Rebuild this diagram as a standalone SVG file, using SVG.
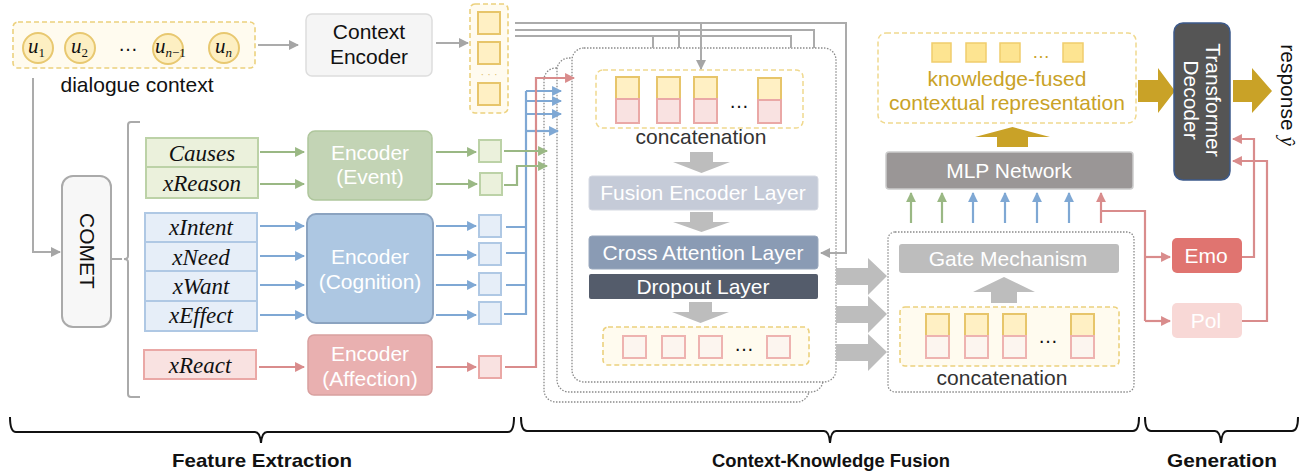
<svg xmlns="http://www.w3.org/2000/svg" width="1309" height="476" viewBox="0 0 1309 476">
<style>
  .sans{font-family:"Liberation Sans",Arial,sans-serif}
  .serif{font-family:"Liberation Serif","Times New Roman",serif;font-style:italic}
  .lbl{font-family:"Liberation Sans",Arial,sans-serif;font-size:21px;text-anchor:middle}
  .wt{fill:#ffffff}
  .dashY{fill:#fffbef;stroke:#ecd17e;stroke-width:1.6;stroke-dasharray:5 3}
  .dashW{fill:#ffffff;stroke:#f0d98e;stroke-width:1.5;stroke-dasharray:5 3}
  .dot{fill:#ffffff;stroke:#8a8a8a;stroke-width:1.3;stroke-dasharray:1.5 1.5}
  .ysq{fill:#fff0c4;stroke:#e7c56a;stroke-width:2}
  .rsq{fill:#f9e2e1;stroke:#eaa8a6;stroke-width:2}
  .rsqL{fill:#fcf5ef;stroke:#eeb3b0;stroke-width:2}
  .gsq{fill:#ebf1dc;stroke:#bcd2a7;stroke-width:2}
  .bsq{fill:#e6eef8;stroke:#afc8e4;stroke-width:2}
  .gl{stroke:#9ab884;stroke-width:2.2;fill:none}
  .bl{stroke:#7fa8d4;stroke-width:2.2;fill:none}
  .rl{stroke:#d98c8c;stroke-width:2.2;fill:none}
  .gy{stroke:#ababab;stroke-width:2;fill:none}
  .gin{font-family:"Liberation Serif","Times New Roman",serif;font-style:italic;font-size:23px;text-anchor:middle;fill:#111}
  .brace{fill:none;stroke:#111;stroke-width:2}
  .sec{font-family:"Liberation Sans",Arial,sans-serif;font-weight:bold;font-size:19px;text-anchor:middle;fill:#111}
</style>
<defs>
  <marker id="mG" viewBox="0 0 10 10" refX="9" refY="5" markerWidth="4.5" markerHeight="4.5" orient="auto"><path d="M0,0 L10,5 L0,10 z" fill="#9ab884"/></marker>
  <marker id="mB" viewBox="0 0 10 10" refX="9" refY="5" markerWidth="4.5" markerHeight="4.5" orient="auto"><path d="M0,0 L10,5 L0,10 z" fill="#7fa8d4"/></marker>
  <marker id="mR" viewBox="0 0 10 10" refX="9" refY="5" markerWidth="4.5" markerHeight="4.5" orient="auto"><path d="M0,0 L10,5 L0,10 z" fill="#d98c8c"/></marker>
  <marker id="mY" viewBox="0 0 10 10" refX="9" refY="5" markerWidth="5" markerHeight="5" orient="auto"><path d="M0,0 L10,5 L0,10 z" fill="#a5a5a5"/></marker>
</defs>

<!-- dialogue context -->
<g id="dialogue">
  <rect class="dashY" x="13" y="22" width="242" height="46" rx="5"/>
  <g fill="#fdefc2" stroke="#e8c870" stroke-width="2">
    <circle cx="38" cy="48" r="15"/><circle cx="80" cy="48" r="15"/>
    <circle cx="168" cy="49" r="15"/><circle cx="224" cy="48" r="15"/>
  </g>
  <g class="serif" font-size="21" fill="#111">
    <text x="28" y="53">u<tspan font-size="13" dy="4" font-style="normal">1</tspan></text>
    <text x="71" y="53">u<tspan font-size="13" dy="4" font-style="normal">2</tspan></text>
    <text x="155" y="53">u<tspan font-size="13" dy="4">n</tspan><tspan font-size="13" font-style="normal">−1</tspan></text>
    <text x="215" y="53">u<tspan font-size="13" dy="4">n</tspan></text>
  </g>
  <text class="sans" x="128" y="51" font-size="20" text-anchor="middle" fill="#111">…</text>
  <text class="lbl" x="137" y="92" fill="#111">dialogue context</text>
</g>

<!-- context encoder -->
<g id="context-encoder">
  <rect x="306" y="14" width="126" height="62" rx="6" fill="#f5f5f5" stroke="#dddddd" stroke-width="1.5"/>
  <text class="lbl" x="369" y="39" fill="#111">Context</text>
  <text class="lbl" x="369" y="64" fill="#111">Encoder</text>
</g>

<!-- encoded context column -->
<g id="context-states">
  <rect class="dashY" x="470" y="4" width="38" height="109" rx="5"/>
  <rect class="ysq" x="478" y="12" width="22" height="22"/>
  <rect class="ysq" x="478" y="42" width="22" height="22"/>
  <text class="sans" x="489" y="78" font-size="11" text-anchor="middle" fill="#e0c070">· · ·</text>
  <rect class="ysq" x="478" y="83" width="22" height="22"/>
</g>

<!-- COMET -->
<g id="comet">
  <rect x="62" y="176" width="49" height="151" rx="11" fill="#f7f7f7" stroke="#aaaaaa" stroke-width="2"/>
  <text class="lbl" transform="translate(87,251) rotate(90)" y="7" font-size="20" fill="#111">COMET</text>
  <path d="M111,259 H122 M140,122 H131 Q128,122 128,125 V256 Q128,259 124,259 Q128,259 128,262 V394 Q128,397 131,397 H140" fill="none" stroke="#aaaaaa" stroke-width="2"/>
</g>

<!-- commonsense relations -->
<g id="relations">
  <rect class="gsq" x="146" y="138" width="112" height="29"/>
  <rect class="gsq" x="146" y="167" width="112" height="31"/>
  <text class="gin" x="202" y="161">Causes</text>
  <text class="gin" x="202" y="191">xReason</text>
  <rect class="bsq" x="145" y="213" width="112" height="29"/>
  <rect class="bsq" x="145" y="242" width="112" height="29"/>
  <rect class="bsq" x="145" y="271" width="112" height="30"/>
  <rect class="bsq" x="145" y="301" width="112" height="30"/>
  <text class="gin" x="201" y="235">xIntent</text>
  <text class="gin" x="201" y="265">xNeed</text>
  <text class="gin" x="201" y="294">xWant</text>
  <text class="gin" x="201" y="323">xEffect</text>
  <rect class="rsq" x="144" y="350" width="112" height="29"/>
  <text class="gin" x="200" y="373">xReact</text>
</g>

<!-- relation encoders -->
<g id="enc-event">
  <rect x="308" y="131" width="124" height="69" rx="7" fill="#c3d4b5" stroke="#afc69c" stroke-width="1.5"/>
  <text class="lbl wt" x="370" y="160">Encoder</text>
  <text class="lbl wt" x="370" y="184">(Event)</text>
</g>
<g id="enc-cognition">
  <rect x="307" y="214" width="126" height="109" rx="9" fill="#adc7e2" stroke="#8ba3c0" stroke-width="2"/>
  <text class="lbl wt" x="370" y="264">Encoder</text>
  <text class="lbl wt" x="370" y="289">(Cognition)</text>
</g>
<g id="enc-affection">
  <rect x="308" y="335" width="124" height="60" rx="6" fill="#e9b0b0" stroke="#d8a09f" stroke-width="1.5"/>
  <text class="lbl wt" x="370" y="361">Encoder</text>
  <text class="lbl wt" x="370" y="386">(Affection)</text>
</g>

<!-- encoded relation vectors -->
<g id="relation-states">
  <rect class="gsq" x="479" y="140" width="22" height="22"/>
  <rect class="gsq" x="480" y="173" width="22" height="22"/>
  <rect class="bsq" x="479" y="215" width="22" height="22"/>
  <rect class="bsq" x="479" y="243" width="22" height="22"/>
  <rect class="bsq" x="479" y="273" width="22" height="22"/>
  <rect class="bsq" x="479" y="302" width="22" height="22"/>
  <rect class="rsq" x="479" y="356" width="22" height="22"/>
</g>

<!-- stacked fusion blocks -->
<g id="fusion-stack">
  <rect class="dot" x="544" y="68" width="265" height="334" rx="12"/>
  <rect class="dot" x="557" y="58" width="266" height="334" rx="12"/>
  <rect class="dot" x="572" y="48" width="264" height="334" rx="12"/>
</g>

<g id="fusion-block">
  <rect class="dashW" x="596" y="70" width="207" height="58" rx="7"/>
  <rect class="ysq" x="616" y="77" width="23" height="22"/><rect class="rsq" x="616" y="99" width="23" height="24"/>
  <rect class="ysq" x="657" y="77" width="23" height="22"/><rect class="rsq" x="657" y="99" width="23" height="24"/>
  <rect class="ysq" x="694" y="77" width="23" height="22"/><rect class="rsq" x="694" y="99" width="23" height="24"/>
  <rect class="ysq" x="758" y="78" width="23" height="22"/><rect class="rsq" x="758" y="100" width="23" height="23"/>
  <text class="sans" x="739" y="108" font-size="20" text-anchor="middle" fill="#111">…</text>
  <text class="lbl" x="701" y="144" fill="#333">concatenation</text>
  <path d="M690,152 H713 V162 H730 L701.5,173 L673,162 H690 Z" fill="#bdbdbd"/>
  <rect x="589" y="176" width="229" height="34" rx="3" fill="#c5cbd8" stroke="#d5d9e2" stroke-width="1"/>
  <text class="lbl wt" x="703" y="200">Fusion Encoder Layer</text>
  <path d="M690,212 H713 V222 H730 L701.5,232 L673,222 H690 Z" fill="#bdbdbd"/>
  <rect x="589" y="236" width="229" height="33" rx="3" fill="#8a9bb4" stroke="#9aa9be" stroke-width="1"/>
  <text class="lbl wt" x="703" y="260">Cross Attention Layer</text>
  <rect x="589" y="274" width="229" height="25" rx="2" fill="#545c6b"/>
  <text class="lbl wt" x="703" y="294">Dropout Layer</text>
  <path d="M689,302 H712 V312 H729 L700.5,323 L672,312 H689 Z" fill="#bdbdbd"/>
  <rect class="dashY" x="603" y="327" width="206" height="38" rx="5"/>
  <rect class="rsqL" x="623" y="336" width="23" height="22"/>
  <rect class="rsqL" x="662" y="336" width="23" height="22"/>
  <rect class="rsqL" x="699" y="336" width="23" height="22"/>
  <rect class="rsqL" x="767" y="336" width="23" height="22"/>
  <text class="sans" x="744" y="351" font-size="20" text-anchor="middle" fill="#111">…</text>
</g>

<!-- fusion outputs to gate -->
<g id="fusion-outputs" fill="#bdbdbd">
  <path d="M836,268 H868 V258 L887,276 L868,295 V285 H836 Z"/>
  <path d="M836,306 H868 V296 L887,314 L868,333 V323 H836 Z"/>
  <path d="M836,344 H868 V334 L887,352 L868,371 V361 H836 Z"/>
</g>

<!-- gate -->
<g id="gate">
  <rect class="dot" x="888" y="232" width="246" height="160" rx="7"/>
  <rect x="899" y="244" width="220" height="29" rx="3" fill="#bdbdbd"/>
  <text class="lbl wt" x="1008" y="266">Gate Mechanism</text>
  <path d="M991,303 V292 H973 L1004,277 L1035,292 H1017 V303 Z" fill="#bdbdbd"/>
  <rect class="dashY" x="900" y="307" width="219" height="59" rx="5"/>
  <rect class="ysq" x="926" y="314" width="23" height="22"/><rect class="rsqL" x="926" y="336" width="23" height="22"/>
  <rect class="ysq" x="965" y="314" width="23" height="22"/><rect class="rsqL" x="965" y="336" width="23" height="22"/>
  <rect class="ysq" x="1003" y="314" width="23" height="22"/><rect class="rsqL" x="1003" y="336" width="23" height="22"/>
  <rect class="ysq" x="1071" y="314" width="23" height="22"/><rect class="rsqL" x="1071" y="336" width="23" height="22"/>
  <text class="sans" x="1048" y="343" font-size="20" text-anchor="middle" fill="#111">…</text>
  <text class="lbl" x="1002" y="385" fill="#333">concatenation</text>
</g>

<!-- MLP -->
<g id="mlp">
  <rect x="886" y="152" width="247" height="37" rx="3" fill="#9a9696" stroke="#cccccc" stroke-width="1.5"/>
  <text class="lbl wt" x="1009" y="178">MLP Network</text>
  <path d="M997,147 V137 H975 L1012.5,127 L1050,137 H1028 V147 Z" fill="#c9a227"/>
</g>

<!-- knowledge-fused representation -->
<g id="fused-repr">
  <rect class="dashW" x="878" y="33" width="258" height="90" rx="8"/>
  <g fill="#fde491" stroke="#f0cd6c" stroke-width="1.5">
    <rect x="932" y="43" width="19" height="19"/><rect x="966" y="43" width="20" height="19"/>
    <rect x="1000" y="43" width="20" height="19"/><rect x="1063" y="43" width="20" height="19"/>
  </g>
  <text class="sans" x="1041" y="58" font-size="18" text-anchor="middle" fill="#c9a227">…</text>
  <text class="lbl" x="1007" y="86" fill="#c9a227">knowledge-fused</text>
  <text class="lbl" x="1007" y="110" fill="#c9a227">contextual representation</text>
  <path d="M1138,80 H1158 V68 L1175,91 L1158,113 V102 H1138 Z" fill="#c9a227"/>
</g>

<!-- Emo / Pol -->
<g id="emo">
  <rect x="1172" y="238" width="70" height="35" rx="5" fill="#e07470"/>
  <text class="lbl wt" x="1206" y="263">Emo</text>
</g>
<g id="pol">
  <rect x="1172" y="303" width="70" height="35" rx="5" fill="#f8d8d6"/>
  <text class="lbl wt" x="1206" y="328">Pol</text>
</g>

<!-- decoder -->
<g id="decoder">
  <rect x="1174" y="23" width="56" height="157" rx="9" fill="#555555" stroke="#3d5a8a" stroke-width="1.5"/>
  <g transform="translate(1202,100) rotate(90)">
    <text class="lbl wt" x="0" y="-4">Transformer</text>
    <text class="lbl wt" x="0" y="18">Decoder</text>
  </g>
  <path d="M1233,80 H1252 V68 L1272,91 L1252,113 V102 H1233 Z" fill="#c9a227"/>
</g>
<g id="response">
  <text class="sans" transform="translate(1281,95) rotate(90)" font-size="21" text-anchor="middle" fill="#111">response <tspan font-family="Liberation Serif,serif" font-style="italic">ŷ</tspan></text>
</g>

<!-- connectors -->
<g id="connectors">
  <line class="gy" x1="258" y1="45" x2="298" y2="45" marker-end="url(#mY)"/>
  <line class="gy" x1="436" y1="43" x2="468" y2="43" marker-end="url(#mY)"/>
  <path class="gy" d="M33,78 V252 H60" marker-end="url(#mY)"/>
  <!-- context broadcast -->
  <path class="gy" d="M515,23 H846 V253 H821" marker-end="url(#mY)"/>
  <path class="gy" d="M701,23 V69" marker-end="url(#mY)"/>
  <path class="gy" d="M515,30 H814 V48 M679,30 V48"/>
  <path class="gy" d="M515,36 H791 V48 M653,36 V48"/>
  <!-- relation rows -->
  <line class="gl" x1="260" y1="152" x2="304" y2="152" marker-end="url(#mG)"/>
  <line class="gl" x1="260" y1="184" x2="304" y2="184" marker-end="url(#mG)"/>
  <line class="bl" x1="260" y1="226" x2="304" y2="226" marker-end="url(#mB)"/>
  <line class="bl" x1="260" y1="256" x2="304" y2="256" marker-end="url(#mB)"/>
  <line class="bl" x1="260" y1="285" x2="304" y2="285" marker-end="url(#mB)"/>
  <line class="bl" x1="260" y1="315" x2="304" y2="315" marker-end="url(#mB)"/>
  <line class="rl" x1="259" y1="367" x2="304" y2="367" marker-end="url(#mR)"/>
  <line class="gl" x1="436" y1="152" x2="476" y2="152" marker-end="url(#mG)"/>
  <line class="gl" x1="436" y1="184" x2="477" y2="184" marker-end="url(#mG)"/>
  <line class="bl" x1="436" y1="226" x2="476" y2="226" marker-end="url(#mB)"/>
  <line class="bl" x1="436" y1="255" x2="476" y2="255" marker-end="url(#mB)"/>
  <line class="bl" x1="436" y1="285" x2="476" y2="285" marker-end="url(#mB)"/>
  <line class="bl" x1="436" y1="315" x2="476" y2="315" marker-end="url(#mB)"/>
  <line class="rl" x1="436" y1="367" x2="476" y2="367" marker-end="url(#mR)"/>
  <!-- into fusion stack -->
  <path class="bl" d="M506,227 H526 M506,253 H526 M506,285 H526 M504,314 H526 V91"/>
  <line class="bl" x1="526" y1="91" x2="561" y2="91" marker-end="url(#mB)"/>
  <line class="bl" x1="526" y1="101" x2="561" y2="101" marker-end="url(#mB)"/>
  <line class="bl" x1="526" y1="114" x2="561" y2="114" marker-end="url(#mB)"/>
  <line class="bl" x1="526" y1="131" x2="558" y2="131" marker-end="url(#mB)"/>
  <path class="rl" d="M505,367 H536 V78 H574" marker-end="url(#mR)"/>
  <line class="gl" x1="504" y1="151" x2="547" y2="151" marker-end="url(#mG)"/>
  <path class="gl" d="M504,185 H517 V166 H547" marker-end="url(#mG)"/>
  <!-- gate outputs into MLP -->
  <line class="gl" x1="911" y1="223" x2="911" y2="193" marker-end="url(#mG)"/>
  <line class="gl" x1="942" y1="223" x2="942" y2="193" marker-end="url(#mG)"/>
  <line class="bl" x1="973" y1="223" x2="973" y2="193" marker-end="url(#mB)"/>
  <line class="bl" x1="1005" y1="223" x2="1005" y2="193" marker-end="url(#mB)"/>
  <line class="bl" x1="1037" y1="223" x2="1037" y2="193" marker-end="url(#mB)"/>
  <line class="bl" x1="1069" y1="223" x2="1069" y2="193" marker-end="url(#mB)"/>
  <line class="rl" x1="1101" y1="223" x2="1101" y2="193" marker-end="url(#mR)"/>
  <path class="rl" d="M1101,211 H1145 V321"/>
  <line class="rl" x1="1145" y1="257" x2="1170" y2="257" marker-end="url(#mR)"/>
  <line class="rl" x1="1145" y1="321" x2="1170" y2="321" marker-end="url(#mR)"/>
  <path class="rl" d="M1242,257 H1254 V139 H1233" marker-end="url(#mR)"/>
  <path class="rl" d="M1242,321 H1267 V161 H1233" marker-end="url(#mR)"/>
</g>

<!-- stage braces -->
<g id="stages">
  <path class="brace" d="M10,417 Q10,432 16,432 H255 Q260,432 261,443 Q262,432 267,432 H508 Q514,432 514,417"/>
  <path class="brace" d="M521,417 Q521,431 527,431 H824 Q829,431 830,443 Q831,431 836,431 H1133 Q1139,431 1139,417"/>
  <path class="brace" d="M1145,417 Q1145,431 1151,431 H1215 Q1220,431 1221,443 Q1222,431 1227,431 H1292 Q1298,431 1298,417"/>
  <text class="sec" x="262" y="467" textLength="180" lengthAdjust="spacingAndGlyphs">Feature Extraction</text>
  <text class="sec" x="831" y="467" textLength="238" lengthAdjust="spacingAndGlyphs">Context-Knowledge Fusion</text>
  <text class="sec" x="1222" y="467" textLength="110" lengthAdjust="spacingAndGlyphs">Generation</text>
</g>
</svg>
